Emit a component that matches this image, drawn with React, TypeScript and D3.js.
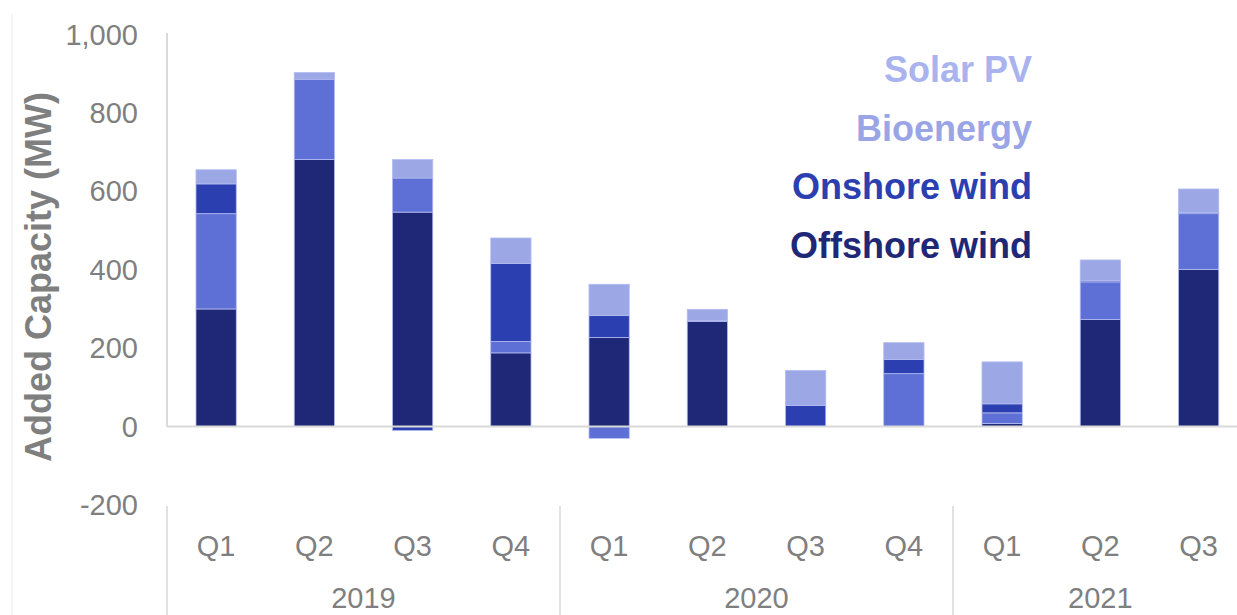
import React from 'react';
import * as d3 from 'd3';

const quarters = ['Q1', 'Q2', 'Q3', 'Q4', 'Q1', 'Q2', 'Q3', 'Q4', 'Q1', 'Q2', 'Q3'];
const years = ['2019', '2020', '2021'];
const quartersPerYear = [4, 4, 3];

// stacked bottom -> top
const offshoreWind = [300, 681, 547, 188, 227, 268, 0, 0, 8, 273, 401];
const onshoreWind = [243, 205, 87, 29, -30, 3, 0, 135, 27, 96, 142];
const bioenergy = [76, 0, -10, 199, 56, 0, 54, 36, 23, 3, 3];
const solarPV = [36, 17, 47, 65, 80, 28, 89, 43, 107, 53, 60];

const seriesKeys = ['offshore', 'onshore', 'bio', 'solar'];
const seriesColors = ['#1e2876', '#5e6fd6', '#2c3fb0', '#9ca7e6'];

const legendLabels = ['Solar PV', 'Bioenergy', 'Onshore wind', 'Offshore wind'];
const legendColors = ['#a9b3ee', '#9aa5e6', '#2c3fb0', '#1e2876'];

const yTicks = [-200, 0, 200, 400, 600, 800, 1000];

const font = 'Liberation Sans, Arial, sans-serif';
const gray = '#7f7f7f';
const lineGray = '#d9d9d9';

const fmt = (v: number) => d3.format(',')(v).replace('\u2212', '-');

const App = () => {
  const width = 1237;
  const height = 615;
  const left = 167;
  const step = 98.25;

  const rows = quarters.map((q, i) => ({
    idx: String(i),
    offshore: offshoreWind[i],
    onshore: onshoreWind[i],
    bio: bioenergy[i],
    solar: solarPV[i],
  }));

  const x = d3.scaleBand()
    .domain(rows.map(d => d.idx))
    .range([left, left + step * quarters.length])
    .paddingInner(0.59)
    .paddingOuter(0.295);

  const y = d3.scaleLinear().domain([-200, 1000]).range([505, 34.5]);

  const stack = d3.stack().keys(seriesKeys).offset(d3.stackOffsetDiverging);
  const layers = stack(rows as any);

  // year group boundaries
  const bounds = [0];
  quartersPerYear.forEach(n => bounds.push(bounds[bounds.length - 1] + n));

  return (
    <svg width={width} height={height} style={{ position: 'absolute', left: 0, top: 0, background: '#fff' }}>
      <line x1={12} x2={12} y1={14} y2={height} stroke="#ececec" strokeWidth={1} />

      {/* y tick labels */}
      {yTicks.map(t => (
        <text key={t} x={138} y={y(t)} dy="0.35em" textAnchor="end" fontFamily={font} fontSize={29} fill={gray}>
          {fmt(t)}
        </text>
      ))}

      <text transform={`translate(51,277) rotate(-90)`} textAnchor="middle" fontFamily={font} fontWeight="bold" fontSize={36} fill={gray}>
        Added Capacity (MW)
      </text>

      {/* axis lines */}
      <line x1={left} x2={left} y1={33} y2={y(0)} stroke={lineGray} strokeWidth={2} />

      {layers.map((layer, li) => (
        <g key={layer.key} fill={seriesColors[li]}>
          {layer.map((d, i) => {
            const y0 = y(d[0]);
            const y1 = y(d[1]);
            if (Math.abs(y0 - y1) < 0.01) return null;
            return (
              <rect key={i} x={x(String(i))} width={x.bandwidth()} y={Math.min(y0, y1)} height={Math.abs(y0 - y1)}
                stroke="#b3bcf0" strokeWidth={0.8} />
            );
          })}
        </g>
      ))}

      <line x1={left} x2={width} y1={y(0)} y2={y(0)} stroke={lineGray} strokeWidth={2} />

      {/* category axis */}
      {bounds.map((b, i) => (
        <line key={i} x1={left + b * step} x2={left + b * step} y1={506} y2={height} stroke={lineGray} strokeWidth={1.5} />
      ))}
      {quarters.map((q, i) => (
        <text key={i} x={x(String(i))! + x.bandwidth() / 2} y={556} textAnchor="middle" fontFamily={font} fontSize={29} fill={gray}>
          {q}
        </text>
      ))}
      {years.map((yr, i) => (
        <text key={yr} x={left + ((bounds[i] + bounds[i + 1]) / 2) * step} y={608} textAnchor="middle" fontFamily={font} fontSize={29} fill={gray}>
          {yr}
        </text>
      ))}

      {/* legend */}
      {legendLabels.map((l, i) => (
        <text key={l} x={1032} y={82 + i * 58.7} textAnchor="end" fontFamily={font} fontWeight="bold" fontSize={36} fill={legendColors[i]}>
          {l}
        </text>
      ))}
    </svg>
  );
};

export default App;
